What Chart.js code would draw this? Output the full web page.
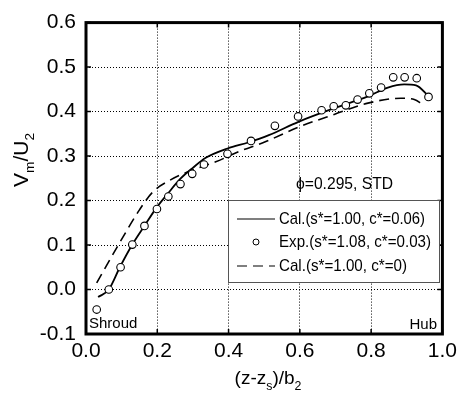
<!DOCTYPE html>
<html>
<head>
<meta charset="utf-8">
<script src="https://cdn.jsdelivr.net/npm/chart.js@4/dist/chart.umd.min.js"></script>
<style>
  html, body { margin: 0; padding: 0; background: #fff; }
  #wrap { width: 462px; height: 395px; position: relative; }
</style>
</head>
<body>
<div id="wrap"><canvas id="c"></canvas></div>
<script>
// measured points (circles)
const expX = [0.030, 0.064, 0.097, 0.130, 0.164, 0.199, 0.231, 0.265, 0.298, 0.331, 0.397, 0.463, 0.530, 0.595, 0.661, 0.695, 0.729, 0.762, 0.795, 0.828, 0.862, 0.894, 0.928, 0.961];
const expY = [-0.045, 0.000, 0.050, 0.101, 0.143, 0.181, 0.209, 0.237, 0.260, 0.281, 0.305, 0.334, 0.368, 0.389, 0.403, 0.412, 0.414, 0.427, 0.441, 0.454, 0.477, 0.477, 0.475, 0.433];

// calculation with c*=0.06 (solid)
const calX = [0.034, 0.064, 0.095, 0.130, 0.164, 0.197, 0.230, 0.265, 0.299, 0.336, 0.397, 0.457, 0.513, 0.596, 0.698, 0.791, 0.847, 0.893, 0.926, 0.962];
const calY = [-0.017, 0.000, 0.050, 0.101, 0.143, 0.183, 0.216, 0.249, 0.273, 0.296, 0.317, 0.331, 0.347, 0.377, 0.408, 0.434, 0.454, 0.461, 0.459, 0.434];

// calculation with c*=0 (dashed)
const cal0X = [0.030, 0.095, 0.150, 0.187, 0.234, 0.290, 0.364, 0.429, 0.503, 0.596, 0.698, 0.791, 0.884, 0.921, 0.945];
const cal0Y = [0.015, 0.106, 0.179, 0.219, 0.245, 0.266, 0.287, 0.310, 0.332, 0.365, 0.394, 0.419, 0.430, 0.427, 0.416];

const xTicks = [0, 0.2, 0.4, 0.6, 0.8, 1.0];
const yTicks = [-0.1, 0, 0.1, 0.2, 0.3, 0.4, 0.5, 0.6];
const seriesLabels = ['Cal.(s*=1.00, c*=0.06)', 'Exp.(s*=1.08, c*=0.03)', 'Cal.(s*=1.00, c*=0)'];

const FONT = '"Liberation Sans", Arial, Helvetica, sans-serif';
const pts = (xs, ys) => xs.map((x, i) => ({ x, y: ys[i] }));

// text with sub/superscripts, parts = [[text, 'sub'|'sup'|null], ...]
function richText(ctx, parts, x, y, size, align) {
  const w = parts.map(([t, k]) => {
    ctx.font = (k ? size * 0.65 : size) + 'px ' + FONT;
    return ctx.measureText(t).width;
  });
  const total = w.reduce((a, b) => a + b, 0);
  let cx = align === 'center' ? x - total / 2 : x;
  ctx.textBaseline = 'alphabetic';
  ctx.textAlign = 'left';
  parts.forEach(([t, k], i) => {
    ctx.font = (k ? size * 0.65 : size) + 'px ' + FONT;
    const dy = k === 'sub' ? size * 0.3 : k === 'sup' ? -size * 0.4 : 0;
    ctx.fillText(t, cx, y + dy);
    cx += w[i];
  });
}

const decor = {
  id: 'decor',
  afterDatasetsDraw(chart) {
    const { ctx, chartArea: a, scales } = chart;
    ctx.save();
    ctx.fillStyle = '#000';
    ctx.strokeStyle = '#000';

    // inward ticks
    ctx.lineWidth = 1.5;
    ctx.beginPath();
    xTicks.forEach(v => {
      const px = scales.x.getPixelForValue(v);
      ctx.moveTo(px, a.bottom); ctx.lineTo(px, a.bottom - 5);
      ctx.moveTo(px, a.top); ctx.lineTo(px, a.top + 5);
    });
    yTicks.forEach(v => {
      const py = scales.y.getPixelForValue(v);
      ctx.moveTo(a.left, py); ctx.lineTo(a.left + 5, py);
      ctx.moveTo(a.right, py); ctx.lineTo(a.right - 5, py);
    });
    ctx.stroke();

    // frame
    ctx.lineWidth = 3;
    ctx.strokeRect(a.left, a.top, a.right - a.left, a.bottom - a.top);

    // legend box
    const lx = 228, ly = 200, lw = 211, lh = 82;
    ctx.fillStyle = '#fff';
    ctx.fillRect(lx, ly, lw, lh);
    ctx.strokeStyle = '#555';
    ctx.lineWidth = 1;
    ctx.strokeRect(lx + 0.5, ly + 0.5, lw, lh);
    const ds = chart.data.datasets;
    const rows = [219, 242, 266];
    const widths = [146, 152, 128];
    ctx.strokeStyle = '#000';
    ds.forEach((d, i) => {
      const y = rows[i];
      ctx.setLineDash(d.borderDash || []);
      if (d.showLine) {
        ctx.lineWidth = 1.2;
        ctx.beginPath(); ctx.moveTo(237, y); ctx.lineTo(275, y); ctx.stroke();
      } else {
        ctx.lineWidth = 1;
        ctx.fillStyle = '#fff';
        ctx.beginPath(); ctx.arc(256, y, 3, 0, Math.PI * 2); ctx.fill(); ctx.stroke();
      }
      ctx.setLineDash([]);
      ctx.fillStyle = '#000';
      ctx.font = '17px ' + FONT;
      ctx.textAlign = 'left';
      ctx.textBaseline = 'middle';
      ctx.fillText(d.label, 279, y, widths[i]);
    });

    // annotations
    ctx.fillStyle = '#000';
    ctx.textBaseline = 'middle';
    ctx.font = '17px ' + FONT;
    ctx.fillText('\u03D5=0.295, STD', 296, 184, 97);
    ctx.font = '15px ' + FONT;
    ctx.textAlign = 'left';
    ctx.fillText('Shroud', 89, 324);
    ctx.textAlign = 'right';
    ctx.fillText('Hub', 437, 325);

    // axis titles
    ctx.textAlign = 'left';
    richText(ctx, [['(z-z', null], ['s', 'sub'], [')/b', null], ['2', 'sub']], 268, 384, 19, 'center');
    ctx.save();
    ctx.translate(28, 160);
    ctx.rotate(-Math.PI / 2);
    richText(ctx, [['V', null], ['m', 'sub'], ['/U', null], ['2', 'sub']], 0, 0, 21, 'center');
    ctx.restore();

    ctx.restore();
  }
};

new Chart(document.getElementById('c'), {
  type: 'scatter',
  data: {
    datasets: [
      {
        label: seriesLabels[0],
        data: pts(calX, calY),
        showLine: true,
        borderColor: '#000',
        borderWidth: 1.8,
        pointRadius: 0,
        cubicInterpolationMode: 'monotone',
        order: 2
      },
      {
        label: seriesLabels[1],
        data: pts(expX, expY),
        showLine: false,
        pointRadius: 3.8,
        pointBorderWidth: 1.1,
        pointBorderColor: '#000',
        pointBackgroundColor: '#fff',
        order: 0
      },
      {
        label: seriesLabels[2],
        data: pts(cal0X, cal0Y),
        showLine: true,
        borderColor: '#000',
        borderWidth: 1.6,
        borderDash: [10, 6],
        pointRadius: 0,
        cubicInterpolationMode: 'monotone',
        order: 1
      }
    ]
  },
  options: {
    responsive: true,
    maintainAspectRatio: false,
    animation: false,
    layout: { padding: { top: 14, right: 17, left: 0, bottom: 0 } },
    plugins: { legend: { display: false }, tooltip: { enabled: false } },
    scales: {
      x: {
        type: 'linear',
        min: 0, max: 1,
        afterFit: s => { s.height = 61; },
        afterBuildTicks: s => { s.ticks = xTicks.map(v => ({ value: v })); },
        grid: { color: '#000', lineWidth: 1, drawTicks: false },
        border: { display: false, dash: [1, 2] },
        ticks: { color: '#000', padding: 5, font: { family: FONT, size: 21 }, callback: v => v.toFixed(1) }
      },
      y: {
        type: 'linear',
        min: -0.1, max: 0.6,
        afterFit: s => { s.width = 86; },
        afterBuildTicks: s => { s.ticks = yTicks.map(v => ({ value: v })); },
        grid: { color: '#000', lineWidth: 1, drawTicks: false },
        border: { display: false, dash: [1, 2] },
        ticks: { color: '#000', padding: 10, font: { family: FONT, size: 21 }, callback: v => v.toFixed(1) }
      }
    }
  },
  plugins: [decor]
});
</script>
</body>
</html>
